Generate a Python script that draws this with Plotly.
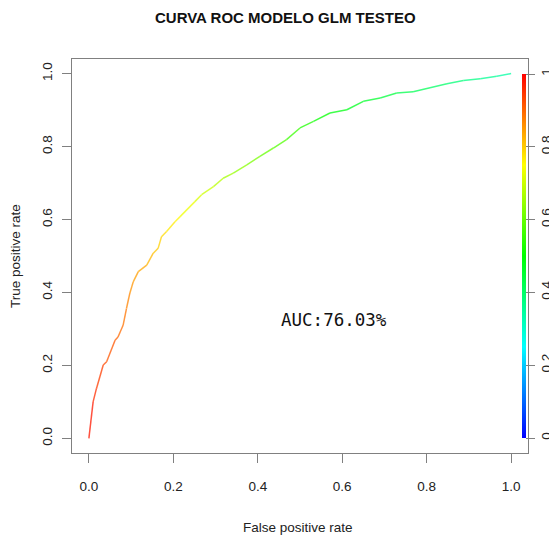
import colorsys
import plotly.graph_objects as go

# ROC curve
fpr = [0.000, 0.010, 0.018, 0.034, 0.042, 0.062, 0.069, 0.081, 0.089, 0.097,
       0.105, 0.117, 0.137, 0.152, 0.164, 0.172, 0.184, 0.204, 0.216, 0.251,
       0.267, 0.295, 0.318, 0.342, 0.374, 0.405, 0.437, 0.468, 0.500, 0.532,
       0.571, 0.611, 0.650, 0.690, 0.729, 0.768, 0.808, 0.848, 0.887, 0.927,
       0.966, 1.000]
tpr = [0.000, 0.100, 0.137, 0.201, 0.210, 0.269, 0.278, 0.310, 0.356, 0.398,
       0.429, 0.457, 0.475, 0.507, 0.521, 0.553, 0.567, 0.594, 0.608, 0.649,
       0.668, 0.690, 0.713, 0.727, 0.750, 0.773, 0.796, 0.819, 0.851, 0.869,
       0.892, 0.901, 0.924, 0.933, 0.947, 0.950, 0.961, 0.972, 0.981, 0.986,
       0.993, 1.000]
cutoff = [0.99, 0.96, 0.95, 0.93, 0.92, 0.91, 0.90, 0.89, 0.88, 0.86,
          0.85, 0.84, 0.83, 0.81, 0.80, 0.79, 0.78, 0.76, 0.75, 0.72,
          0.71, 0.69, 0.67, 0.65, 0.63, 0.61, 0.59, 0.57, 0.54, 0.52,
          0.49, 0.48, 0.46, 0.45, 0.43, 0.42, 0.41, 0.39, 0.38, 0.36,
          0.35, 0.33]
axis_ticks = [0.0, 0.2, 0.4, 0.6, 0.8, 1.0]
cbar_ticktext = ["0", "0.2", "0.4", "0.6", "0.8", "1"]
auc_label = "AUC:76.03%"
title_text = "CURVA ROC MODELO GLM TESTEO"


def rainbow(v):
    h = (1 - v) * 240 / 360
    r, g, b = colorsys.hsv_to_rgb(h, 1, 1)
    return f"rgb({int(r*255)},{int(g*255)},{int(b*255)})"


colorscale = [[i / 20, rainbow(i / 20)] for i in range(21)]

fig = go.Figure()
for i in range(len(fpr) - 1):
    c = (cutoff[i] + cutoff[i + 1]) / 2
    fig.add_trace(go.Scatter(
        x=[fpr[i], fpr[i + 1]], y=[tpr[i], tpr[i + 1]], mode="lines",
        line=dict(color=rainbow(c), width=1.5), opacity=0.75,
        showlegend=False, hoverinfo="skip"))

cbar = dict(x=0.987, xanchor="left", xpad=0, ypad=0,
            thickness=4, lenmode="pixels", len=364,
            y=0.5, yanchor="middle", outlinewidth=0,
            tickvals=axis_ticks, ticktext=cbar_ticktext,
            ticks="outside", ticklen=9, tickcolor="#808080",
            tickangle=-90,
            tickfont=dict(family="Liberation Sans", size=13.5, color="#222"))

fig.add_trace(go.Scatter(
    x=[None], y=[None], mode="markers", showlegend=False, hoverinfo="skip",
    marker=dict(color=[0], colorscale=colorscale, cmin=0, cmax=1,
                showscale=True, colorbar=cbar)))

axis_common = dict(range=[-0.04, 1.04], tickvals=axis_ticks, tickformat=".1f",
                   showline=True, mirror=True, linecolor="#808080", linewidth=1,
                   ticks="outside", ticklen=9, tickcolor="#808080",
                   showgrid=False, zeroline=False,
                   tickfont=dict(family="Liberation Sans", size=13.5, color="#222"))

fig.update_layout(
    width=557, height=539,
    margin=dict(l=64, r=37, t=51, b=94, autoexpand=False),
    paper_bgcolor="white", plot_bgcolor="white",
    xaxis=dict(**axis_common, ticklabelstandoff=12),
    yaxis=dict(**axis_common, tickangle=-90, ticklabelstandoff=5),
    annotations=[
        dict(text=f"<b>{title_text}</b>", xref="paper", yref="paper", x=0.469, y=1.105,
             xanchor="center", yanchor="middle", showarrow=False,
             font=dict(family="Liberation Sans", size=15, color="#111")),
        dict(text=auc_label, xref="x", yref="y", x=0.58, y=0.324,
             xanchor="center", yanchor="middle", showarrow=False,
             font=dict(family="DejaVu Sans Mono", size=17.5, color="#111")),
        dict(text="False positive rate", xref="paper", yref="paper", x=0.496, y=-0.189,
             xanchor="center", yanchor="middle", showarrow=False,
             font=dict(family="Liberation Sans", size=13.5, color="#222")),
        dict(text="True positive rate", xref="paper", yref="paper", x=-0.125, y=0.5,
             xanchor="center", yanchor="middle", textangle=-90, showarrow=False,
             font=dict(family="Liberation Sans", size=13.5, color="#222")),
    ],
)

fig.write_html("out.html")
